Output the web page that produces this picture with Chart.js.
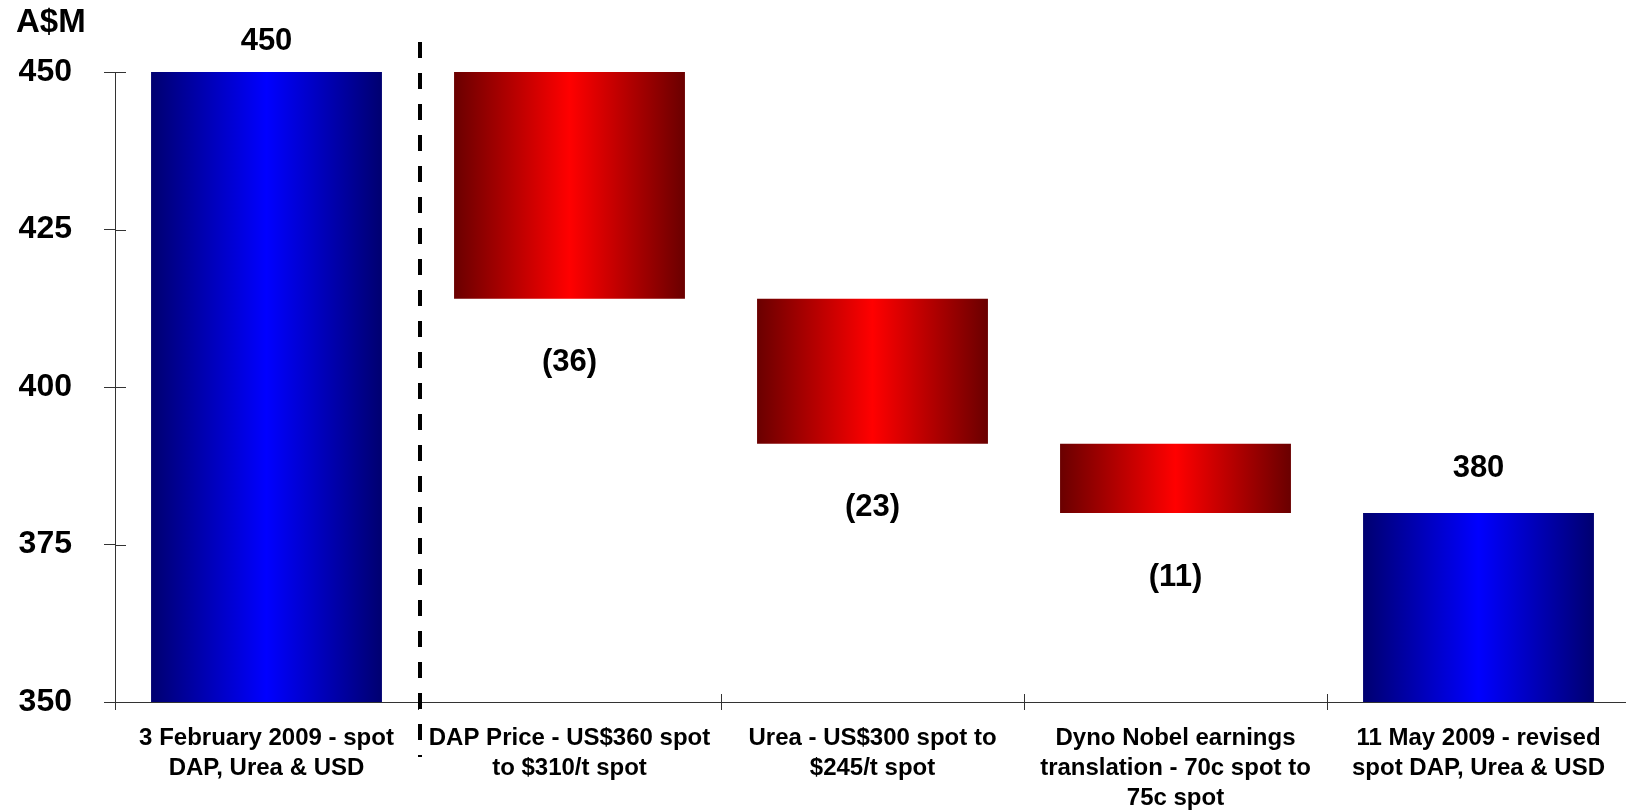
<!DOCTYPE html>
<html>
<head>
<meta charset="utf-8">
<script src="https://cdn.jsdelivr.net/npm/chart.js@4"></script>
<style>
  html, body { margin: 0; padding: 0; background: #fff; overflow: hidden; }
  #wrap { width: 1632px; height: 812px; }
</style>
</head>
<body>
<div id="wrap"><canvas id="chart"></canvas></div>
<script>
const categories = [
  ["3 February 2009 - spot", "DAP, Urea & USD"],
  ["DAP Price - US$360 spot", "to $310/t spot"],
  ["Urea - US$300 spot to", "$245/t spot"],
  ["Dyno Nobel earnings", "translation - 70c spot to", "75c spot"],
  ["11 May 2009 - revised", "spot DAP, Urea & USD"],
];
// totals are absolute, the rest are changes
const values = [450, -36, -23, -11, 380];
const isTotal = [true, false, false, false, true];
const valueLabels = ["450", "(36)", "(23)", "(11)", "380"];
const yTicks = [350, 375, 400, 425, 450];
const unitLabel = "A$M";

const FONT = "'Liberation Sans', Arial, Helvetica, sans-serif";
const AXIS_MIN = 350;

// build floating ranges from running total
let running = 0;
const ranges = values.map((v, i) => {
  if (isTotal[i]) {
    running = v;
    return [AXIS_MIN, v];
  }
  const from = running;
  running += v;
  return [running, from];
});

// gradient fills, set per bar once the bars have their positions
const gradients = {
  id: "gradients",
  beforeDatasetsDraw(chart) {
    const ctx = chart.ctx;
    chart.getDatasetMeta(0).data.forEach((bar, i) => {
      const left = bar.x - bar.width / 2;
      const right = bar.x + bar.width / 2;
      if (!Number.isFinite(left) || !Number.isFinite(right)) return;
      const g = ctx.createLinearGradient(left, 0, right, 0);
      const edge = isTotal[i] ? "#000070" : "#6a0000";
      const mid = isTotal[i] ? "#0000ff" : "#ff0000";
      g.addColorStop(0, edge);
      g.addColorStop(0.5, mid);
      g.addColorStop(1, edge);
      bar.options.backgroundColor = g;
    });
  }
};

const extras = {
  id: "extras",
  afterDraw(chart) {
    const ctx = chart.ctx;
    const x = chart.scales.x;
    const y = chart.scales.y;
    const area = chart.chartArea;
    ctx.save();

    // inner halves of the tick marks
    ctx.strokeStyle = "#333";
    ctx.lineWidth = 1;
    ctx.beginPath();
    yTicks.forEach(t => {
      const py = Math.round(y.getPixelForValue(t)) + 0.5;
      ctx.moveTo(area.left, py);
      ctx.lineTo(area.left + 11, py);
    });
    for (let i = 1; i < categories.length; i++) {
      const px = Math.round((x.getPixelForValue(i - 1) + x.getPixelForValue(i)) / 2) + 0.5;
      ctx.moveTo(px, area.bottom);
      ctx.lineTo(px, area.bottom - 8);
    }
    ctx.stroke();

    // dashed separator after the starting total
    const sepX = (x.getPixelForValue(0) + x.getPixelForValue(1)) / 2 + 2;
    ctx.strokeStyle = "#000";
    ctx.lineWidth = 4;
    ctx.setLineDash([16, 15]);
    ctx.beginPath();
    ctx.moveTo(sepX, 42);
    ctx.lineTo(sepX, 757);
    ctx.stroke();
    ctx.setLineDash([]);

    // value labels
    ctx.fillStyle = "#000";
    ctx.font = "bold 31px " + FONT;
    ctx.textAlign = "center";
    ctx.textBaseline = "middle";
    ranges.forEach((r, i) => {
      const cx = x.getPixelForValue(i);
      if (isTotal[i]) {
        ctx.fillText(valueLabels[i], cx, Math.max(41, y.getPixelForValue(r[1]) - 45));
      } else {
        ctx.fillText(valueLabels[i], cx, y.getPixelForValue(r[0]) + 64);
      }
    });

    // unit label
    ctx.font = "bold 33px " + FONT;
    ctx.textAlign = "left";
    ctx.fillText(unitLabel, 16, 23);
    ctx.restore();
  }
};

new Chart(document.getElementById("chart"), {
  type: "bar",
  data: {
    labels: categories,
    datasets: [{
      data: ranges,
      backgroundColor: (c) => isTotal[c.dataIndex] ? "#0000ff" : "#ff0000",
      borderWidth: 0,
      categoryPercentage: 1,
      barPercentage: 0.762,
    }],
  },
  options: {
    responsive: true,
    maintainAspectRatio: false,
    animation: false,
    layout: { padding: { top: 72, right: 2, left: 0, bottom: 0 } },
    plugins: {
      legend: { display: false },
      tooltip: { enabled: false },
    },
    scales: {
      x: {
        grid: { drawOnChartArea: false, offset: true, tickLength: 8, color: "#333" },
        border: { display: true, color: "#333", width: 1 },
        ticks: {
          color: "#000",
          font: { family: FONT, size: 24, weight: "bold", lineHeight: 1.25 },
          padding: 13,
          autoSkip: false,
          maxRotation: 0,
          minRotation: 0,
        },
        afterFit(scale) { scale.height = 110; },
      },
      y: {
        min: 350,
        max: 450,
        grid: { drawOnChartArea: false, tickLength: 11, color: "#333" },
        border: { display: true, color: "#333", width: 1 },
        ticks: {
          stepSize: 25,
          color: "#000",
          font: { family: FONT, size: 32, weight: "bold" },
          padding: 32,
        },
        afterFit(scale) { scale.width = 115; },
      },
    },
  },
  plugins: [gradients, extras],
});
</script>
</body>
</html>
